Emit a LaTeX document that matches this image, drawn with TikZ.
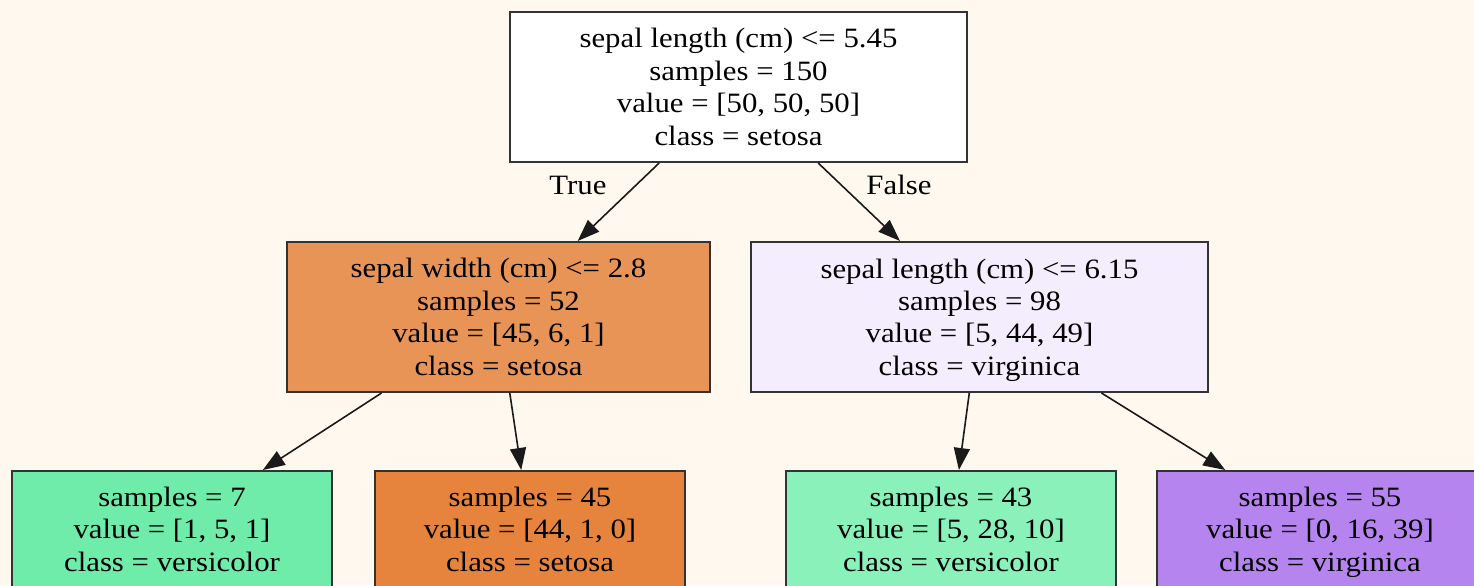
\documentclass[tikz,border=0pt]{standalone}
\usepackage{fontspec}
\setmainfont{Liberation Serif}[FakeStretch=1.1]
\usetikzlibrary{arrows.meta}
\definecolor{paper}{HTML}{FFF8EF}
\definecolor{rootfill}{HTML}{FFFFFF}
\definecolor{setosamid}{HTML}{E99457}
\definecolor{virgmid}{HTML}{F3EDFD}
\definecolor{versileaf}{HTML}{6FECA9}
\definecolor{setosaleaf}{HTML}{E6843E}
\definecolor{versileafb}{HTML}{8AF1BA}
\definecolor{virgleaf}{HTML}{B684EE}
\definecolor{edgeline}{HTML}{1A1A1A}
\tikzset{
  treenode/.style={draw=black!80,line width=1pt,rectangle,align=center,inner sep=0pt,font=\fontsize{14}{16.2}\selectfont},
  split/.style={treenode,minimum height=75pt},
  leaf/.style={treenode,minimum height=58pt},
  arr/.style={-{Triangle[length=11pt,width=8pt]},draw=edgeline,line width=0.8pt},
  branch/.style={font=\fontsize{14}{16}\selectfont}
}
\begin{document}
\begin{tikzpicture}[x=0.5pt,y=-0.5pt]
\useasboundingbox (0,0) rectangle (1474,585);
\clip (0,0) rectangle (1474,585);
\fill[paper] (0,0) rectangle (1474,585);
% split nodes
\node[split,fill=rootfill,minimum width=228.5pt] (root) at (738.5,87) {sepal length (cm) <= 5.45\\samples = 150\\value = [50, 50, 50]\\class = setosa};
\node[split,fill=setosamid,minimum width=211.5pt] (nleft) at (498.5,317) {sepal width (cm) <= 2.8\\samples = 52\\value = [45, 6, 1]\\class = setosa};
\node[split,fill=virgmid,minimum width=228.5pt] (nright) at (979.5,317) {sepal length (cm) <= 6.15\\samples = 98\\value = [5, 44, 49]\\\smash{class = virginica}};
% leaves
\foreach \name/\x/\w/\col/\n/\v/\c in {
  leafa/172/160/versileaf/7/{1, 5, 1}/versicolor,
  leafb/530/155/setosaleaf/45/{44, 1, 0}/setosa,
  leafc/951/165/versileafb/43/{5, 28, 10}/versicolor,
  leafd/1320/163/virgleaf/55/{0, 16, 39}/virginica}
{
\node[leaf,fill=\col,minimum width=\w pt] (\name) at (\x,529) {samples = \n\\value = [\v]\\\smash{class = \c}};
}
% edges
\draw[arr] (root) -- (nleft);
\draw[arr] (root) -- (nright);
\draw[arr] (nleft) -- (leafa);
\draw[arr] (nleft) -- (leafb);
\draw[arr] (nright) -- (leafc);
\draw[arr] (nright) -- (leafd);
\node[branch] (ltrue) at (578,185) {True};
\node[branch] (lfalse) at (899,185) {False};
\end{tikzpicture}
\end{document}
